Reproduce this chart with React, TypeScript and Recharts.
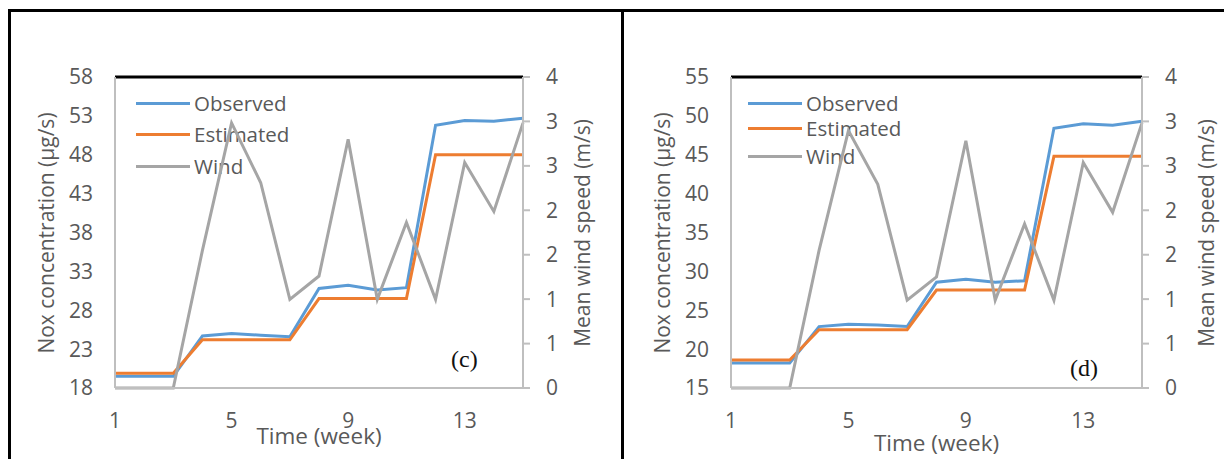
import React from "react";
import { LineChart, Line, XAxis, YAxis, ReferenceLine } from "recharts";

// weeks on the x axis
const weeks = [1, 2, 3, 4, 5, 6, 7, 8, 9, 10, 11, 12, 13, 14, 15];
const weekTicks = [1, 5, 9, 13];

// panel (c)
const observedC = [19.5, 19.5, 19.5, 24.7, 25.0, 24.8, 24.6, 30.8, 31.2, 30.6, 30.9, 51.8, 52.4, 52.3, 52.7];
const estimatedC = [19.9, 19.9, 19.9, 24.2, 24.2, 24.2, 24.2, 29.5, 29.5, 29.5, 29.5, 48.0, 48.0, 48.0, 48.0];
const windC = [0, 0, 0, 1.77, 3.41, 2.64, 1.14, 1.44, 3.2, 1.14, 2.13, 1.14, 2.9, 2.27, 3.41];
const noxTicksC = [18, 23, 28, 33, 38, 43, 48, 53, 58];

// panel (d)
const observedD = [18.2, 18.2, 18.2, 22.9, 23.2, 23.1, 22.9, 28.6, 29.0, 28.6, 28.8, 48.4, 49.0, 48.8, 49.3];
const estimatedD = [18.6, 18.6, 18.6, 22.5, 22.5, 22.5, 22.5, 27.6, 27.6, 27.6, 27.6, 44.8, 44.8, 44.8, 44.8];
const windD = [0, 0, 0, 1.77, 3.31, 2.62, 1.13, 1.43, 3.18, 1.13, 2.11, 1.13, 2.9, 2.26, 3.41];
const noxTicksD = [15, 20, 25, 30, 35, 40, 45, 50, 55];

// secondary axis: 0..4 split in 7, shown with no decimals
const windTicks = [0, 0.571, 1.143, 1.714, 2.286, 2.857, 3.429, 4];

const BLUE = "#5b9bd5";
const ORANGE = "#ed7d31";
const GREY = "#a5a5a5";
const AXIS = "#bfbfbf";
const TEXT = "#595959";
const FONT = "'Open Sans', sans-serif";

const tickStyle = { fill: TEXT, fontSize: 21, fontFamily: FONT };

interface PanelProps {
  left: number;
  width: number;
  leftW: number;
  rightW: number;
  observed: number[];
  estimated: number[];
  wind: number[];
  noxTicks: number[];
  tag: string;
  tagX: number;
  tagY: number;
  legendX: number;
  legendRows: number[];
  leftTitleX: number;
  rightTitleX: number;
  xTitleOffset: number;
}

function VTitle({ x, y, text }: { x: number; y: number; text: string }) {
  return (
    <div
      style={{
        position: "absolute",
        left: x,
        top: y,
        transform: "translate(-50%, -50%) rotate(-90deg)",
        whiteSpace: "nowrap",
        fontFamily: FONT,
        fontSize: 21,
        color: TEXT,
      }}
    >
      {text}
    </div>
  );
}

function Panel(p: PanelProps) {
  const data = weeks.map((w, i) => ({
    week: w,
    observed: p.observed[i],
    estimated: p.estimated[i],
    wind: p.wind[i],
  }));
  const legend = [
    { name: "Observed", color: BLUE },
    { name: "Estimated", color: ORANGE },
    { name: "Wind", color: GREY },
  ];
  const lo = p.noxTicks[0];
  const hi = p.noxTicks[p.noxTicks.length - 1];

  return (
    <div style={{ position: "absolute", left: p.left, top: 0, width: p.width, height: 459 }}>
      {legend.map((l, i) => (
        <div
          key={l.name}
          style={{
            position: "absolute",
            left: p.legendX - p.left,
            top: p.legendRows[i] - 14,
            height: 28,
            display: "flex",
            alignItems: "center",
            fontFamily: FONT,
            fontSize: 20.5,
            color: TEXT,
            whiteSpace: "nowrap",
          }}
        >
          <div style={{ width: 54, height: 3, background: l.color, marginRight: 4 }} />
          {l.name}
        </div>
      ))}
      <div
        style={{
          position: "absolute",
          left: p.tagX - p.left,
          top: p.tagY - 15,
          fontFamily: "'Liberation Serif', serif",
          fontSize: 24,
          lineHeight: "28px",
          color: "#111",
        }}
      >
        {p.tag}
      </div>
      <VTitle x={p.leftTitleX - p.left} y={233} text="Nox concentration (µg/s)" />
      <VTitle x={p.rightTitleX - p.left} y={233} text="Mean wind speed (m/s)" />
      <div style={{ position: "absolute", left: 0, top: 0 }}>
        <LineChart
          width={p.width}
          height={459}
          data={data}
          margin={{ top: 77, right: 0, left: 0, bottom: 11 }}
        >
          <XAxis
            dataKey="week"
            type="number"
            domain={[1, 15]}
            ticks={weekTicks}
            height={60}
            tickLine={false}
            tickSize={0}
            tickMargin={25}
            tick={tickStyle}
            axisLine={{ stroke: AXIS, strokeWidth: 2 }}
            label={{
              value: "Time (week)",
              position: "insideBottom",
              offset: p.xTitleOffset,
              fill: TEXT,
              fontSize: 22.5,
              fontFamily: FONT,
            }}
          />
          <YAxis
            yAxisId="nox"
            width={p.leftW}
            domain={[lo, hi]}
            ticks={p.noxTicks}
            interval={0}
            tickLine={false}
            tickSize={0}
            tickMargin={22}
            tick={tickStyle}
            axisLine={{ stroke: AXIS, strokeWidth: 2 }}
          />
          <YAxis
            yAxisId="wind"
            orientation="right"
            width={p.rightW}
            domain={[0, 4]}
            ticks={windTicks}
            interval={0}
            tickFormatter={(v: number) => String(Math.round(v))}
            tickLine={{ stroke: AXIS, strokeWidth: 2 }}
            tickSize={7}
            tickMargin={16}
            tick={tickStyle}
            axisLine={{ stroke: AXIS, strokeWidth: 2 }}
          />
          <ReferenceLine yAxisId="nox" y={hi} stroke="#000" strokeWidth={3} />
          <Line
            yAxisId="nox"
            dataKey="observed"
            stroke={BLUE}
            strokeWidth={3}
            dot={false}
            isAnimationActive={false}
          />
          <Line
            yAxisId="nox"
            dataKey="estimated"
            stroke={ORANGE}
            strokeWidth={3}
            dot={false}
            isAnimationActive={false}
          />
          <Line
            yAxisId="wind"
            dataKey="wind"
            stroke={GREY}
            strokeWidth={3}
            dot={false}
            isAnimationActive={false}
          />
        </LineChart>
      </div>
    </div>
  );
}

export default function App() {
  return (
    <div
      style={{
        position: "absolute",
        left: 0,
        top: 0,
        width: 1224,
        height: 459,
        background: "#fff",
        overflow: "hidden",
      }}
    >
      {/* table borders round the two panels */}
      <div style={{ position: "absolute", left: 8, top: 9, width: 1216, height: 3, background: "#000" }} />
      <div style={{ position: "absolute", left: 8, top: 9, width: 3, height: 450, background: "#000" }} />
      <div style={{ position: "absolute", left: 621, top: 9, width: 3, height: 450, background: "#000" }} />

      <Panel
        left={0}
        width={620}
        leftW={115}
        rightW={97}
        observed={observedC}
        estimated={estimatedC}
        wind={windC}
        noxTicks={noxTicksC}
        tag="(c)"
        tagX={451}
        tagY={360}
        legendX={136}
        legendRows={[103, 134, 166]}
        leftTitleX={46}
        rightTitleX={582}
        xTitleOffset={4}
      />
      <Panel
        left={624}
        width={600}
        leftW={107}
        rightW={82}
        observed={observedD}
        estimated={estimatedD}
        wind={windD}
        noxTicks={noxTicksD}
        tag="(d)"
        tagX={1070}
        tagY={369}
        legendX={748}
        legendRows={[103, 128, 156]}
        leftTitleX={662}
        rightTitleX={1206}
        xTitleOffset={-3}
      />
    </div>
  );
}
